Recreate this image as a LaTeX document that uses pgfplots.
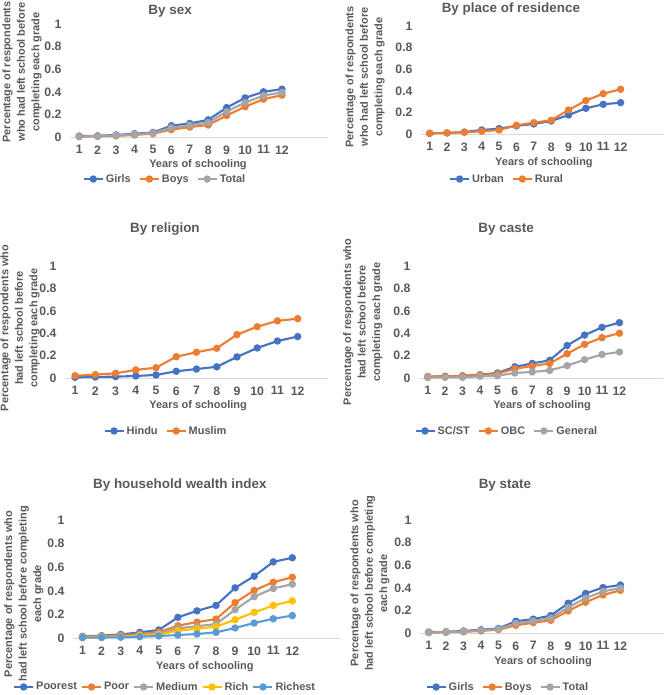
\documentclass[border=0pt]{standalone}
\usepackage{fontspec}
\setmainfont{Liberation Sans}
\usepackage{pgfplots}
\pgfplotsset{compat=1.18}
\definecolor{cBlue}{HTML}{4472C4}
\definecolor{cOrange}{HTML}{ED7D31}
\definecolor{cGray}{HTML}{A5A5A5}
\definecolor{cYellow}{HTML}{FFC000}
\definecolor{cLBlue}{HTML}{5B9BD5}
\definecolor{txt}{HTML}{595959}
\definecolor{axisgray}{HTML}{D9D9D9}
\newcommand\lab{\fontsize{11}{14.5}\selectfont\bfseries}
\newcommand\tck{\fontsize{12.3}{14}\selectfont\bfseries}
\newcommand\ttl{\fontsize{13.5}{16}\selectfont\bfseries}
\pgfplotsset{
 panel/.style={
   scale only axis, anchor=south west,
   xmin=0.5, xmax=14.5, ymin=0, ymax=1,
   xtick={1,2,3,4,5,6,7,8,9,10,11,12},
   xticklabels={1,2,3,4,5,6,7,8,9,10,11,12},
   ytick={0,0.2,0.4,0.6,0.8,1},
   yticklabels={0,0.2,0.4,0.6,0.8,1},
   /pgf/number format/assume math mode=true,
   axis x line*=bottom, axis y line*=left,
   x axis line style={draw=axisgray, line width=0.8bp, -},
   y axis line style={draw=none},
   major tick length=0pt,
   tick label style={font=\tck, text=txt},
   xticklabel style={yshift=-5bp},
   yticklabel style={xshift=-5bp},
   label style={font=\lab, text=txt},
   ylabel style={align=center, anchor=center},
   xlabel style={anchor=center},
   title style={font=\ttl, text=txt, anchor=center},
   legend style={draw=none, fill=none, font=\lab, text=txt, legend columns=-1, anchor=center,
     nodes={inner sep=2bp},
     /tikz/every even column/.append style={column sep=6bp},
     /tikz/every odd column/.append style={column sep=0bp}},
   legend image code/.code={\draw[mark repeat=2,mark phase=2] plot coordinates {(0bp,0bp)(9.5bp,0bp)(19bp,0bp)};},
   xlabel={Years of schooling},
   clip=false,
 },
 every axis plot/.append style={line width=2.1bp, mark=*, mark size=2.6bp, mark options={solid}},
}
\begin{document}
\begin{tikzpicture}
\useasboundingbox (0,0) rectangle (667bp,695bp);
% Panel 1: By sex
\begin{axis}[panel, at={(70bp,558bp)}, width=258bp, height=113bp,
  title={By sex}, title style={at={(axis description cs:0.388,1.062)}},
  xlabel style={at={(axis description cs:0.496,-0.248)}},
  ylabel={Percentage of respondents\\who had left school before\\completing each grade},
  ylabel style={at={(axis description cs:-0.186,0.575)}},
  legend style={at={(axis description cs:0.368,-0.372)}}]
\addplot[cBlue] coordinates {(1,0.008)(2,0.011)(3,0.018)(4,0.029)(5,0.040)(6,0.100)(7,0.120)(8,0.152)(9,0.260)(10,0.346)(11,0.400)(12,0.423)};
\addplot[cOrange] coordinates {(1,0.003)(2,0.006)(3,0.010)(4,0.018)(5,0.030)(6,0.065)(7,0.088)(8,0.106)(9,0.190)(10,0.268)(11,0.335)(12,0.370)};
\addplot[cGray] coordinates {(1,0.005)(2,0.008)(3,0.014)(4,0.024)(5,0.035)(6,0.082)(7,0.104)(8,0.128)(9,0.224)(10,0.305)(11,0.366)(12,0.395)};
\legend{Girls,Boys,Total}
\end{axis}
% Panel 2: By place of residence
\begin{axis}[panel, at={(421bp,561bp)}, width=243bp, height=108bp,
  title={By place of residence}, title style={at={(axis description cs:0.37,1.10)}},
  xlabel style={at={(axis description cs:0.506,-0.27)}},
  ylabel={Percentage of respondents\\who had left school before\\completing each grade},
  ylabel style={at={(axis description cs:-0.23,0.528)}},
  legend style={at={(axis description cs:0.354,-0.417)}}]
\addplot[cBlue] coordinates {(1,0.006)(2,0.010)(3,0.018)(4,0.037)(5,0.050)(6,0.075)(7,0.093)(8,0.120)(9,0.176)(10,0.238)(11,0.275)(12,0.290)};
\addplot[cOrange] coordinates {(1,0.006)(2,0.010)(3,0.015)(4,0.025)(5,0.037)(6,0.080)(7,0.105)(8,0.127)(9,0.222)(10,0.310)(11,0.373)(12,0.414)};
\legend{Urban,Rural}
\end{axis}
% Panel 3: By religion
\begin{axis}[panel, xmax=13.5, at={(65bp,317bp)}, width=263bp, height=112bp,
  title={By religion}, title style={at={(axis description cs:0.38,1.277)}},
  xlabel style={at={(axis description cs:0.506,-0.25)}},
  ylabel={Percentage of respondents who\\had left school before\\completing each grade},
  ylabel style={at={(axis description cs:-0.171,0.446)}},
  legend style={at={(axis description cs:0.384,-0.473)}}]
\addplot[cBlue] coordinates {(1,0.006)(2,0.009)(3,0.012)(4,0.018)(5,0.027)(6,0.060)(7,0.080)(8,0.100)(9,0.188)(10,0.268)(11,0.330)(12,0.370)};
\addplot[cOrange] coordinates {(1,0.020)(2,0.030)(3,0.042)(4,0.072)(5,0.092)(6,0.190)(7,0.230)(8,0.265)(9,0.387)(10,0.458)(11,0.510)(12,0.530)};
\legend{Hindu,Muslim}
\end{axis}
% Panel 4: By caste
\begin{axis}[panel, at={(419bp,317bp)}, width=244bp, height=112bp,
  title={By caste}, title style={at={(axis description cs:0.357,1.277)}},
  xlabel style={at={(axis description cs:0.504,-0.25)}},
  ylabel={Percentage of respondents who\\had left school before\\completing each grade},
  ylabel style={at={(axis description cs:-0.23,0.5)}},
  legend style={at={(axis description cs:0.36,-0.473)}}]
\addplot[cBlue] coordinates {(1,0.012)(2,0.015)(3,0.020)(4,0.030)(5,0.045)(6,0.100)(7,0.130)(8,0.158)(9,0.290)(10,0.383)(11,0.452)(12,0.494)};
\addplot[cOrange] coordinates {(1,0.012)(2,0.015)(3,0.018)(4,0.027)(5,0.038)(6,0.083)(7,0.107)(8,0.130)(9,0.217)(10,0.300)(11,0.360)(12,0.400)};
\addplot[cGray] coordinates {(1,0.003)(2,0.006)(3,0.006)(4,0.015)(5,0.020)(6,0.045)(7,0.054)(8,0.068)(9,0.110)(10,0.164)(11,0.210)(12,0.232)};
\legend{SC/ST,OBC,General}
\end{axis}
% Panel 5: By household wealth index
\begin{axis}[panel, at={(73bp,57bp)}, width=267bp, height=118bp,
  title={By household wealth index}, title style={at={(axis description cs:0.40,1.246)}},
  xlabel style={at={(axis description cs:0.494,-0.246)}},
  ylabel={Percentage of respondents who\\had left school before completing\\each grade},
  ylabel style={at={(axis description cs:-0.184,0.373)}},
  legend style={at={(axis description cs:0.345,-0.415)},
     /tikz/every even column/.append style={column sep=2bp}}]
\addplot[cBlue] coordinates {(1,0.014)(2,0.020)(3,0.030)(4,0.048)(5,0.068)(6,0.175)(7,0.230)(8,0.276)(9,0.425)(10,0.524)(11,0.645)(12,0.680)};
\addplot[cOrange] coordinates {(1,0.011)(2,0.014)(3,0.022)(4,0.034)(5,0.050)(6,0.104)(7,0.135)(8,0.160)(9,0.300)(10,0.403)(11,0.473)(12,0.515)};
\addplot[cGray] coordinates {(1,0.008)(2,0.011)(3,0.014)(4,0.025)(5,0.037)(6,0.082)(7,0.100)(8,0.118)(9,0.240)(10,0.350)(11,0.420)(12,0.456)};
\addplot[cYellow] coordinates {(1,0.006)(2,0.008)(3,0.011)(4,0.020)(5,0.028)(6,0.062)(7,0.079)(8,0.096)(9,0.155)(10,0.217)(11,0.276)(12,0.315)};
\addplot[cLBlue] coordinates {(1,0.003)(2,0.004)(3,0.006)(4,0.011)(5,0.017)(6,0.025)(7,0.034)(8,0.048)(9,0.085)(10,0.127)(11,0.163)(12,0.190)};
\legend{Poorest,Poor,Medium,Rich,Richest}
\end{axis}
% Panel 6: By state
\begin{axis}[panel, at={(420bp,62bp)}, width=244bp, height=113bp,
  title={By state}, title style={at={(axis description cs:0.348,1.257)}},
  xlabel style={at={(axis description cs:0.504,-0.257)}},
  ylabel={Percentage of respondents who\\had left school before completing\\each grade},
  ylabel style={at={(axis description cs:-0.205,0.44)}},
  legend style={at={(axis description cs:0.36,-0.478)}}]
\addplot[cBlue] coordinates {(1,0.008)(2,0.011)(3,0.018)(4,0.029)(5,0.040)(6,0.104)(7,0.123)(8,0.154)(9,0.263)(10,0.350)(11,0.402)(12,0.425)};
\addplot[cOrange] coordinates {(1,0.003)(2,0.006)(3,0.010)(4,0.018)(5,0.030)(6,0.068)(7,0.091)(8,0.112)(9,0.195)(10,0.272)(11,0.337)(12,0.377)};
\addplot[cGray] coordinates {(1,0.005)(2,0.008)(3,0.014)(4,0.024)(5,0.035)(6,0.085)(7,0.107)(8,0.132)(9,0.226)(10,0.308)(11,0.368)(12,0.398)};
\legend{Girls,Boys,Total}
\end{axis}
\end{tikzpicture}
\end{document}
